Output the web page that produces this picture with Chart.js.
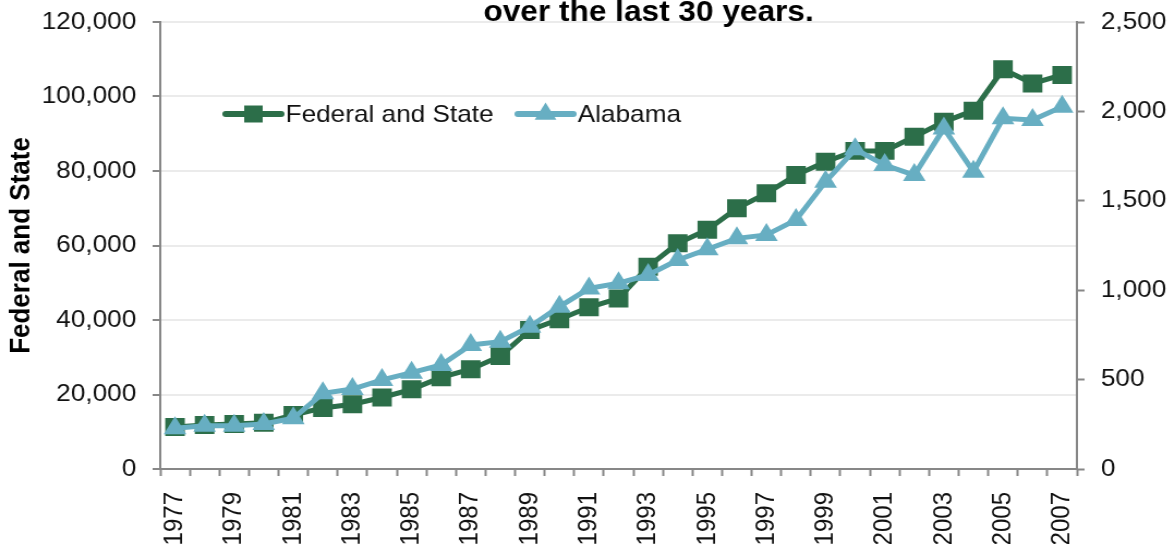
<!DOCTYPE html>
<html>
<head>
<meta charset="utf-8">
<script src="https://cdn.jsdelivr.net/npm/chart.js@4"></script>
<style>
html,body{margin:0;padding:0;background:#fff;overflow:hidden;}
#wrap{width:1174px;height:544px;overflow:hidden;position:relative;}
#c{display:block;transform:scaleX(1.09);transform-origin:0 0;}
</style>
</head>
<body>
<div id="wrap"><canvas id="c" width="1077" height="544" style="width:1077px;height:544px"></canvas></div>
<script>
// ---- data ----
const titleText = 'over the last 30 years.';
const years = ['1977','1978','1979','1980','1981','1982','1983','1984','1985','1986',
               '1987','1988','1989','1990','1991','1992','1993','1994','1995','1996',
               '1997','1998','1999','2000','2001','2002','2003','2004','2005','2006','2007'];
const federalAndState = [11300, 11800, 12100, 12400, 14500, 16400, 17400, 19200, 21400, 24600,
                         26800, 30300, 37300, 40200, 43400, 45800, 54300, 60600, 64200, 70000,
                         74000, 78900, 82500, 85400, 85400, 89200, 93200, 96200, 107300, 103500, 105800];
const alabama = [228, 242, 242, 252, 284, 423, 447, 498, 539, 582,
                 694, 712, 796, 908, 1010, 1039, 1085, 1169, 1229, 1290,
                 1309, 1393, 1607, 1788, 1700, 1644, 1905, 1663, 1961, 1952, 2026];
const leftTicks = [0, 20000, 40000, 60000, 80000, 100000, 120000];
const rightTicks = [0, 500, 1000, 1500, 2000, 2500];
const seriesNames = ['Federal and State', 'Alabama'];
const leftAxisTitle = 'Federal and State';

// ---- styles ----
const FONT = '"Liberation Sans", Arial, Helvetica, sans-serif';
const GREEN = '#2C6E49';
const BLUE = '#67AEC2';
const AXIS = '#878787';
const GRID = '#ebebeb';
const TEXT = '#111111';

const topTitle = {
  id: 'topTitle',
  afterDraw(chart) {
    const ctx = chart.ctx;
    ctx.save();
    ctx.font = 'bold 29px ' + FONT;
    ctx.fillStyle = '#000';
    ctx.textAlign = 'center';
    ctx.textBaseline = 'alphabetic';
    ctx.fillText(titleText, 595, 21);
    ctx.restore();
  }
};

const insideLegend = {
  id: 'insideLegend',
  afterDraw(chart) {
    const ctx = chart.ctx;
    const items = [
      {ds: chart.data.datasets[1], x0: 207, x1: 258, tx: 262},
      {ds: chart.data.datasets[0], x0: 475, x1: 526, tx: 530}
    ];
    const y = 114;
    ctx.save();
    items.forEach(it => {
      const c = it.ds.borderColor;
      ctx.strokeStyle = c;
      ctx.lineWidth = 6;
      ctx.lineCap = 'round';
      ctx.beginPath();
      ctx.moveTo(it.x0, y);
      ctx.lineTo(it.x1, y);
      ctx.stroke();
      const cx = (it.x0 + it.x1) / 2;
      ctx.fillStyle = c;
      ctx.beginPath();
      if (it.ds.pointStyle === 'rect') {
        ctx.rect(cx - 8.5, y - 8.5, 17, 17);
      } else {
        const r = 11.5;
        ctx.moveTo(cx, y - r);
        ctx.lineTo(cx + 0.866 * r, y + r / 2);
        ctx.lineTo(cx - 0.866 * r, y + r / 2);
        ctx.closePath();
      }
      ctx.fill();
      ctx.fillStyle = TEXT;
      ctx.font = '24px ' + FONT;
      ctx.textAlign = 'left';
      ctx.textBaseline = 'middle';
      ctx.fillText(it.ds.label, it.tx, y + 1);
    });
    ctx.restore();
  }
};

function fixVertical(width) {
  return function (s) { s.width = width; s.paddingTop = 0; s.paddingBottom = 0; };
}

new Chart(document.getElementById('c'), {
  type: 'line',
  data: {
    labels: years,
    datasets: [
      {
        label: seriesNames[1],
        data: alabama,
        yAxisID: 'y1',
        order: 0,
        borderColor: BLUE,
        backgroundColor: BLUE,
        borderWidth: 5,
        tension: 0,
        pointStyle: 'triangle',
        pointRadius: 12,
        pointBackgroundColor: BLUE,
        pointBorderWidth: 0,
        fill: false
      },
      {
        label: seriesNames[0],
        data: federalAndState,
        yAxisID: 'y',
        order: 1,
        borderColor: GREEN,
        backgroundColor: GREEN,
        borderWidth: 5,
        tension: 0,
        pointStyle: 'rect',
        pointRadius: 12.7,
        pointBackgroundColor: GREEN,
        pointBorderWidth: 0,
        fill: false
      }
    ]
  },
  options: {
    responsive: false,
    animation: false,
    devicePixelRatio: 1,
    layout: {padding: {top: 22, left: 0, right: 0, bottom: 0}},
    plugins: {
      legend: {display: false},
      tooltip: {enabled: false},
      title: {display: false}
    },
    scales: {
      x: {
        type: 'category',
        offset: true,
        grid: {offset: true, drawOnChartArea: false, drawTicks: true, tickLength: 7, tickColor: AXIS, tickWidth: 2},
        border: {color: AXIS, width: 2},
        ticks: {
          autoSkip: false, minRotation: 90, maxRotation: 90, padding: 16,
          color: TEXT, font: {size: 24, family: FONT},
          callback: function (v, i) { return i % 2 === 0 ? this.getLabelForValue(v) : ''; }
        },
        afterFit(s) { s.height = 75; s.paddingLeft = 0; s.paddingRight = 0; }
      },
      y: {
        position: 'left',
        min: 0, max: 120000,
        afterBuildTicks(s) { s.ticks = leftTicks.map(v => ({value: v})); },
        grid: {color: GRID, lineWidth: 2, tickColor: AXIS, tickLength: 7, tickWidth: 2},
        border: {color: AXIS, width: 2},
        ticks: {padding: 15, color: TEXT, font: {size: 24, family: FONT},
                callback: v => v.toLocaleString('en-US')},
        title: {display: true, text: leftAxisTitle, color: '#000',
                font: {size: 26, weight: 'bold', family: FONT}, padding: {top: 4, bottom: 0}},
        afterFit: fixVertical(147)
      },
      y1: {
        position: 'right',
        min: 0, max: 2500,
        afterBuildTicks(s) { s.ticks = rightTicks.map(v => ({value: v})); },
        grid: {drawOnChartArea: false, tickColor: AXIS, tickLength: 7, tickWidth: 2},
        border: {color: AXIS, width: 2},
        ticks: {padding: 15, color: TEXT, font: {size: 24, family: FONT},
                callback: v => v.toLocaleString('en-US')},
        afterFit: fixVertical(89)
      }
    }
  },
  plugins: [topTitle, insideLegend]
});
</script>
</body>
</html>
